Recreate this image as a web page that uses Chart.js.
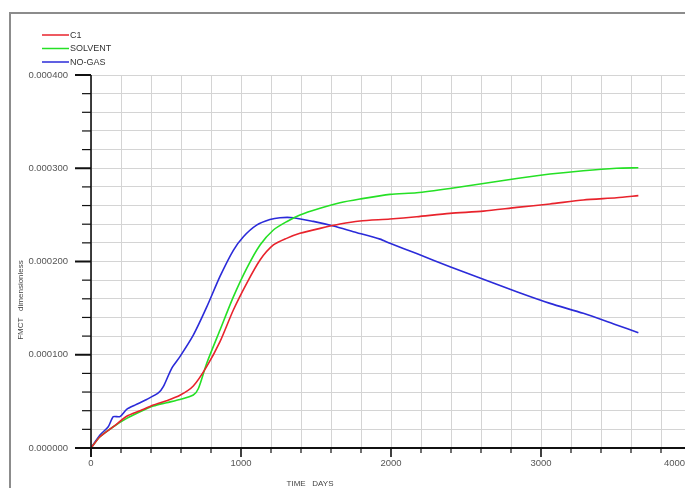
<!DOCTYPE html>
<html>
<head>
<meta charset="utf-8">
<script src="https://cdn.jsdelivr.net/npm/chart.js@4"></script>
<style>
  html, body { margin: 0; padding: 0; background: #fff; overflow: hidden; }
  #wrap { position: relative; width: 685px; height: 488px; overflow: hidden; }
  #frame { position: absolute; left: 9px; top: 12px; width: 760px; height: 560px; border: 2px solid #8c8c8c; box-sizing: border-box; }
  #c { position: absolute; left: 0; top: 0; }
</style>
</head>
<body>
<div id="wrap">
  <div id="frame"></div>
  <canvas id="c" width="720" height="488" style="width:720px;height:488px"></canvas>
</div>
<script>
// ---- data ----
const seriesNames = ["C1", "SOLVENT", "NO-GAS"];
const xTitle = "TIME   DAYS";
const yTitle = "FMCT   dimensionless";

const c1Days = [0,60,149,238,327,416,504,593,682,771,860,949,1038,1127,1216,1304,1393,1527,1660,1793,1993,2171,2393,2616,2838,3060,3282,3504,3649];
const c1Values = [0,0.0000121,0.0000228,0.000034,0.00004,0.0000461,0.0000507,0.0000565,0.0000665,0.0000873,0.000114,0.000148,0.0001766,0.0002016,0.0002177,0.0002248,0.0002302,0.0002355,0.0002402,0.0002434,0.0002455,0.000248,0.0002516,0.000254,0.000258,0.0002617,0.000266,0.0002684,0.0002706];

const solventDays = [0,60,149,238,327,416,504,593,682,716,771,860,949,1038,1127,1216,1304,1393,1527,1660,1793,1993,2171,2393,2616,2838,3060,3282,3504,3649];
const solventValues = [0,0.0000121,0.0000228,0.0000318,0.0000389,0.000045,0.0000486,0.000052,0.0000568,0.0000638,0.0000906,0.0001265,0.000162,0.0001926,0.0002177,0.0002338,0.0002427,0.0002498,0.000257,0.000263,0.000267,0.000272,0.0002737,0.0002783,0.0002837,0.000289,0.0002938,0.0002974,0.0003,0.0003005];

const noGasDays = [0,60,115,149,193,238,293,371,449,482,538,593,682,771,860,949,1016,1104,1193,1260,1349,1482,1616,1749,1927,1993,2171,2393,2571,2838,3060,3282,3504,3649];
const noGasValues = [0,0.0000139,0.0000228,0.0000336,0.0000336,0.0000415,0.000046,0.000052,0.000059,0.0000657,0.0000855,0.000098,0.000121,0.000151,0.000184,0.000212,0.0002266,0.000239,0.000245,0.000247,0.000247,0.000243,0.000238,0.000232,0.000224,0.0002195,0.0002085,0.0001944,0.0001837,0.0001676,0.0001551,0.0001444,0.0001319,0.0001237];

const xMajorTicks = [0, 1000, 2000, 3000, 4000];
const yMajorTicks = [0, 0.0001, 0.0002, 0.0003, 0.0004];
const seriesColors = ["#e8232c", "#25e025", "#2b2bd9"];

function pts(xs, ys) { return xs.map((x, i) => ({ x: x, y: ys[i] })); }
function isMajor(v, list, eps) { return list.some(t => Math.abs(t - v) < eps); }
const lastX = xMajorTicks[xMajorTicks.length - 1];

const axisPlugin = {
  id: 'axisPlugin',
  afterDraw(chart) {
    const ctx = chart.ctx;
    const xs = chart.scales.x, ys = chart.scales.y;
    const x0 = xs.getPixelForValue(0);
    const y0 = ys.getPixelForValue(0);
    const yTop = ys.getPixelForValue(0.0004);
    ctx.save();
    ctx.strokeStyle = '#111';
    // x axis line
    ctx.lineWidth = 2.2;
    ctx.beginPath(); ctx.moveTo(x0 - 16, y0); ctx.lineTo(chart.width, y0); ctx.stroke();
    // y axis line
    ctx.lineWidth = 1.6;
    ctx.beginPath(); ctx.moveTo(x0, yTop); ctx.lineTo(x0, y0 + 9); ctx.stroke();
    // y ticks
    ys.ticks.forEach(t => {
      const p = ys.getPixelForValue(t.value);
      const maj = isMajor(t.value, yMajorTicks, 1e-9);
      ctx.lineWidth = maj ? 2 : 1.2;
      ctx.beginPath(); ctx.moveTo(x0 - (maj ? 16 : 9), p); ctx.lineTo(x0, p); ctx.stroke();
    });
    // x ticks
    xs.ticks.forEach(t => {
      const p = xs.getPixelForValue(t.value);
      const maj = isMajor(t.value, xMajorTicks, 1e-6);
      ctx.lineWidth = maj ? 1.6 : 1.2;
      ctx.beginPath(); ctx.moveTo(p, y0); ctx.lineTo(p, y0 + (maj ? 9 : 5)); ctx.stroke();
    });
    // last x label, pulled inside the frame as in the reference
    ctx.fillStyle = '#555';
    ctx.font = '9.5px "Liberation Sans", Arial, sans-serif';
    ctx.textAlign = 'left';
    ctx.textBaseline = 'middle';
    ctx.fillText(String(lastX), xs.getPixelForValue(lastX) - 27, y0 + 15);
    // legend
    ctx.font = '9px "Liberation Sans", Arial, sans-serif';
    const ly = [35, 48.5, 62];
    chart.data.datasets.forEach((ds, i) => {
      ctx.strokeStyle = ds.borderColor;
      ctx.lineWidth = 1.5;
      ctx.beginPath(); ctx.moveTo(42, ly[i]); ctx.lineTo(69, ly[i]); ctx.stroke();
      ctx.fillStyle = '#333';
      ctx.fillText(ds.label, 70, ly[i] + 0.5);
    });
    // axis titles
    ctx.fillStyle = '#444';
    ctx.font = '8px "Liberation Sans", Arial, sans-serif';
    ctx.textAlign = 'center';
    ctx.fillText(xTitle, 310, 484);
    ctx.save();
    ctx.translate(21, 300);
    ctx.rotate(-Math.PI / 2);
    ctx.fillText(yTitle, 0, 0);
    ctx.restore();
    ctx.restore();
  }
};

new Chart(document.getElementById('c'), {
  type: 'scatter',
  data: {
    datasets: [
      { label: seriesNames[0], data: pts(c1Days, c1Values), borderColor: seriesColors[0] },
      { label: seriesNames[1], data: pts(solventDays, solventValues), borderColor: seriesColors[1] },
      { label: seriesNames[2], data: pts(noGasDays, noGasValues), borderColor: seriesColors[2] }
    ].map(d => Object.assign(d, { showLine: true, pointRadius: 0, borderWidth: 1.6, tension: 0.25, fill: false, backgroundColor: d.borderColor }))
  },
  options: {
    responsive: false,
    animation: false,
    layout: { padding: { top: 75, left: 0, right: 29, bottom: 0 } },
    plugins: { legend: { display: false }, tooltip: { enabled: false } },
    scales: {
      x: {
        type: 'linear', min: 0, max: 4000,
        afterFit(s) { s.height = 40; },
        border: { display: false },
        grid: { color: '#d4d4d4', lineWidth: 1, drawTicks: false },
        ticks: {
          stepSize: 200, autoSkip: false, maxRotation: 0, padding: 10,
          color: '#555', font: { family: 'Liberation Sans', size: 9.5 },
          callback: v => (isMajor(v, xMajorTicks, 1e-6) && Math.abs(v - lastX) > 1e-6) ? String(Math.round(v)) : ''
        }
      },
      y: {
        type: 'linear', min: 0, max: 0.0004,
        afterFit(s) { s.width = 91; },
        border: { display: false },
        grid: { color: '#d4d4d4', lineWidth: 1, drawTicks: false },
        ticks: {
          stepSize: 0.00002, autoSkip: false, padding: 23,
          color: '#555', font: { family: 'Liberation Sans', size: 9.5 },
          callback: v => isMajor(v, yMajorTicks, 1e-9) ? v.toFixed(6) : ''
        }
      }
    }
  },
  plugins: [axisPlugin]
});
</script>
</body>
</html>
